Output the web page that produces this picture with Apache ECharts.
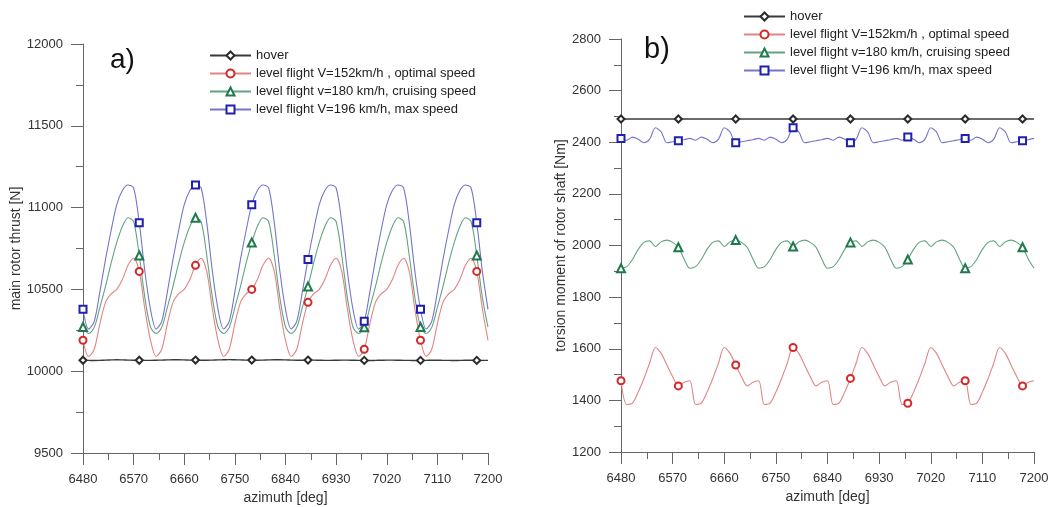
<!DOCTYPE html>
<html>
<head>
<meta charset="utf-8">
<script src="https://cdn.jsdelivr.net/npm/echarts@6/dist/echarts.min.js"></script>
<style>
  html, body { margin: 0; padding: 0; background: #fff; }
  #chart { width: 1052px; height: 507px; }
</style>
</head>
<body>
<div id="chart"></div>
<script>
const azimuth = [6480, 6490, 6500, 6510, 6520, 6530, 6540, 6550, 6560, 6570, 6580, 6590,
  6600, 6610, 6620, 6630, 6640, 6650, 6660, 6670, 6680, 6690, 6700, 6710,
  6720, 6730, 6740, 6750, 6760, 6770, 6780, 6790, 6800, 6810, 6820, 6830,
  6840, 6850, 6860, 6870, 6880, 6890, 6900, 6910, 6920, 6930, 6940, 6950,
  6960, 6970, 6980, 6990, 7000, 7010, 7020, 7030, 7040, 7050, 7060, 7070,
  7080, 7090, 7100, 7110, 7120, 7130, 7140, 7150, 7160, 7170, 7180, 7190, 7200];

const markerAz = [6480, 6580, 6680, 6780, 6880, 6980, 7080, 7180];

const seriesNames = ['hover', 'level flight V=152km/h , optimal speed',
  'level flight v=180 km/h, cruising speed', 'level flight V=196 km/h, max speed'];

// a) main rotor thrust [N]
const thrustHover = [10067, 10066, 10065, 10066, 10068, 10069, 10070, 10069, 10068, 10067, 10067, 10066,
  10066, 10067, 10068, 10069, 10070, 10070, 10069, 10068, 10068, 10067, 10067, 10068,
  10069, 10070, 10071, 10070, 10069, 10068, 10068, 10067, 10068, 10069, 10070, 10070,
  10069, 10068, 10067, 10067, 10068, 10068, 10067, 10066, 10066, 10067, 10068, 10068,
  10067, 10066, 10066, 10065, 10066, 10067, 10068, 10068, 10067, 10066, 10066, 10065,
  10066, 10066, 10067, 10067, 10066, 10066, 10065, 10066, 10067, 10067, 10066, 10066, 10066];
const thrustOptimal = [10189, 10090, 10134, 10290, 10421, 10472, 10500, 10560, 10647, 10690, 10610, 10380,
  10189, 10090, 10134, 10290, 10421, 10472, 10500, 10560, 10647, 10690, 10610, 10380,
  10189, 10090, 10134, 10290, 10421, 10472, 10500, 10560, 10647, 10690, 10610, 10380,
  10189, 10090, 10134, 10290, 10421, 10472, 10500, 10560, 10647, 10690, 10610, 10380,
  10189, 10090, 10134, 10290, 10421, 10472, 10500, 10560, 10647, 10690, 10610, 10380,
  10189, 10090, 10134, 10290, 10421, 10472, 10500, 10560, 10647, 10690, 10610, 10380, 10189];
const thrustCruise = [10270, 10230, 10268, 10390, 10518, 10660, 10787, 10885, 10938, 10915, 10707, 10450,
  10270, 10230, 10268, 10390, 10518, 10660, 10787, 10885, 10938, 10915, 10707, 10450,
  10270, 10230, 10268, 10390, 10518, 10660, 10787, 10885, 10938, 10915, 10707, 10450,
  10270, 10230, 10268, 10390, 10518, 10660, 10787, 10885, 10938, 10915, 10707, 10450,
  10270, 10230, 10268, 10390, 10518, 10660, 10787, 10885, 10938, 10915, 10707, 10450,
  10270, 10230, 10268, 10390, 10518, 10660, 10787, 10885, 10938, 10915, 10707, 10450, 10270];
const thrustMax = [10378, 10258, 10305, 10485, 10683, 10860, 11018, 11105, 11138, 11120, 10908, 10610,
  10378, 10258, 10305, 10485, 10683, 10860, 11018, 11105, 11138, 11120, 10908, 10610,
  10378, 10258, 10305, 10485, 10683, 10860, 11018, 11105, 11138, 11120, 10908, 10610,
  10378, 10258, 10305, 10485, 10683, 10860, 11018, 11105, 11138, 11120, 10908, 10610,
  10378, 10258, 10305, 10485, 10683, 10860, 11018, 11105, 11138, 11120, 10908, 10610,
  10378, 10258, 10305, 10485, 10683, 10860, 11018, 11105, 11138, 11120, 10908, 10610, 10378];

// b) torsion moment of rotor shaft [Nm]
const torqueHover = [2490, 2490, 2490, 2490, 2490, 2490, 2490, 2490, 2490, 2490, 2490, 2490,
  2490, 2490, 2490, 2490, 2490, 2490, 2490, 2490, 2490, 2490, 2490, 2490,
  2490, 2490, 2490, 2490, 2490, 2490, 2490, 2490, 2490, 2490, 2490, 2490,
  2490, 2490, 2490, 2490, 2490, 2490, 2490, 2490, 2490, 2490, 2490, 2490,
  2490, 2490, 2490, 2490, 2490, 2490, 2490, 2490, 2490, 2490, 2490, 2490,
  2490, 2490, 2490, 2490, 2490, 2490, 2490, 2490, 2490, 2490, 2490, 2490, 2490];
const torqueOptimal = [1476, 1384, 1389, 1432, 1485, 1545, 1605, 1582, 1537, 1492, 1456, 1470,
  1476, 1384, 1389, 1432, 1485, 1545, 1605, 1582, 1537, 1492, 1456, 1470,
  1476, 1384, 1389, 1432, 1485, 1545, 1605, 1582, 1537, 1492, 1456, 1470,
  1476, 1384, 1389, 1432, 1485, 1545, 1605, 1582, 1537, 1492, 1456, 1470,
  1476, 1384, 1389, 1432, 1485, 1545, 1605, 1582, 1537, 1492, 1456, 1470,
  1476, 1384, 1389, 1432, 1485, 1545, 1605, 1582, 1537, 1492, 1456, 1470, 1476];
const torqueCruise = [1912, 1918, 1946, 1985, 2012, 2018, 1996, 2014, 2021, 2012, 1993, 1948,
  1912, 1918, 1946, 1985, 2012, 2018, 1996, 2014, 2021, 2012, 1993, 1948,
  1912, 1918, 1946, 1985, 2012, 2018, 1996, 2014, 2021, 2012, 1993, 1948,
  1912, 1918, 1946, 1985, 2012, 2018, 1996, 2014, 2021, 2012, 1993, 1948,
  1912, 1918, 1946, 1985, 2012, 2018, 1996, 2014, 2021, 2012, 1993, 1948,
  1912, 1918, 1946, 1985, 2012, 2018, 1996, 2014, 2021, 2012, 1993, 1948, 1912];
const torqueMax = [2415, 2408, 2420, 2412, 2398, 2412, 2456, 2440, 2398, 2402, 2406, 2410,
  2415, 2408, 2420, 2412, 2398, 2412, 2456, 2440, 2398, 2402, 2406, 2410,
  2415, 2408, 2420, 2412, 2398, 2412, 2456, 2440, 2398, 2402, 2406, 2410,
  2415, 2408, 2420, 2412, 2398, 2412, 2456, 2440, 2398, 2402, 2406, 2410,
  2415, 2408, 2420, 2412, 2398, 2412, 2456, 2440, 2398, 2402, 2406, 2410,
  2415, 2408, 2420, 2412, 2398, 2412, 2456, 2440, 2398, 2402, 2406, 2410, 2415];

const xTicks = [6480, 6570, 6660, 6750, 6840, 6930, 7020, 7110, 7200];

const font = 'Liberation Sans, Arial, sans-serif';
const styles = [
  { symbol: 'emptyDiamond', size: 7, line: '#3a3a3a', mark: '#2b2b2b', width: 1.4 },
  { symbol: 'emptyCircle', size: 7, line: '#e28484', mark: '#d42828', width: 1.1 },
  { symbol: 'emptyTriangle', size: 8, line: '#64a382', mark: '#1e7a4c', width: 1.1 },
  { symbol: 'emptyRect', size: 7, line: '#7575ca', mark: '#2020b0', width: 1.1 }
];

function makeSeries(name, values, st, idx) {
  return {
    name: name,
    type: 'line',
    xAxisIndex: idx,
    yAxisIndex: idx,
    smooth: 0.3,
    showSymbol: true,
    showAllSymbol: true,
    symbol: st.symbol,
    symbolSize: function (v) { return markerAz.indexOf(v[0]) >= 0 ? st.size : 0; },
    lineStyle: { color: st.line, width: st.width },
    itemStyle: { color: st.mark, borderWidth: 1.2 },
    z: name === 'hover' ? 1 : 2,
    data: azimuth.map(function (a, i) { return [a, values[i]]; })
  };
}

function xAxis(idx) {
  return {
    type: 'value', gridIndex: idx, min: 6480, max: 7200, interval: 90,
    name: 'azimuth [deg]', nameLocation: 'middle', nameGap: 37,
    nameTextStyle: { fontFamily: font, fontSize: 14, color: '#333' },
    axisLine: { lineStyle: { color: '#666', width: 1 } },
    axisTick: { length: 12, lineStyle: { color: '#666' } },
    minorTick: { show: true, splitNumber: 2, length: 7, lineStyle: { color: '#666' } },
    splitLine: { show: false },
    axisLabel: { margin: 20, fontFamily: font, fontSize: 13, color: '#333',
      formatter: function (v) { return xTicks.indexOf(v) >= 0 ? String(v) : ''; } }
  };
}

function yAxis(idx, name, min, max, interval, gap) {
  return {
    type: 'value', gridIndex: idx, min: min, max: max, interval: interval,
    name: name, nameLocation: 'middle', nameGap: gap,
    nameTextStyle: { fontFamily: font, fontSize: 14, color: '#333' },
    axisLine: { show: true, lineStyle: { color: '#666', width: 1 } },
    axisTick: { show: true, length: 12, lineStyle: { color: '#666' } },
    minorTick: { show: true, splitNumber: 2, length: 7, lineStyle: { color: '#666' } },
    splitLine: { show: false },
    axisLabel: { margin: 20, fontFamily: font, fontSize: 13, color: '#333',
      formatter: function (v) { return String(v); } }
  };
}

function legend(left, top) {
  return {
    orient: 'vertical', left: left, top: top,
    itemWidth: 41, itemHeight: 10, itemGap: 5,
    textStyle: { fontFamily: font, fontSize: 13, color: '#222', lineHeight: 12 },
    data: seriesNames
  };
}

const chart = echarts.init(document.getElementById('chart'));
chart.setOption({
  animation: false,
  backgroundColor: '#fff',
  grid: [
    { left: 83, top: 44, width: 405, height: 409, outerBoundsMode: 'none' },
    { left: 621, top: 39, width: 413, height: 413, outerBoundsMode: 'none' }
  ],
  xAxis: [xAxis(0), xAxis(1)],
  yAxis: [
    yAxis(0, 'main rotor thrust [N]', 9500, 12000, 500, 55),
    yAxis(1, 'torsion moment of rotor shaft [Nm]', 1200, 2800, 200, 49)
  ],
  legend: [legend(204, 44), legend(738, 5)],
  graphic: [
    { type: 'text', left: 110, top: 46, style: { text: 'a)', font: '28px ' + font, fill: '#111' } },
    { type: 'text', left: 644, top: 35, style: { text: 'b)', font: '29px ' + font, fill: '#111' } }
  ],
  series: [
    makeSeries(seriesNames[0], thrustHover, styles[0], 0),
    makeSeries(seriesNames[1], thrustOptimal, styles[1], 0),
    makeSeries(seriesNames[2], thrustCruise, styles[2], 0),
    makeSeries(seriesNames[3], thrustMax, styles[3], 0),
    makeSeries(seriesNames[0], torqueHover, styles[0], 1),
    makeSeries(seriesNames[1], torqueOptimal, styles[1], 1),
    makeSeries(seriesNames[2], torqueCruise, styles[2], 1),
    makeSeries(seriesNames[3], torqueMax, styles[3], 1)
  ]
});
</script>
</body>
</html>
